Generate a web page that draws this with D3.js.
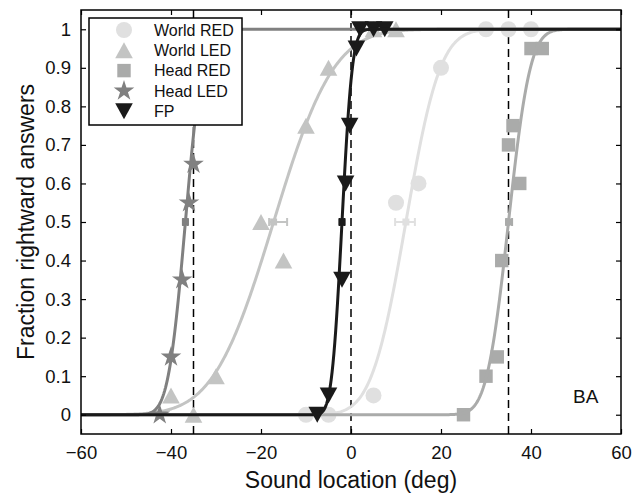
<!DOCTYPE html>
<html>
<head>
<meta charset="utf-8">
<script src="https://cdn.jsdelivr.net/npm/d3@7"></script>
<style>
  html, body { margin: 0; padding: 0; background: #fff; }
  svg { display: block; font-family: "Liberation Sans", Arial, Helvetica, sans-serif; }
</style>
</head>
<body>
<svg id="chart" width="642" height="495"></svg>
<script>
// ---------------- data ----------------
const seriesNames = ["World RED", "World LED", "Head RED", "Head LED", "FP"];
const seriesColors = ["#e0e0e0", "#c3c4c3", "#aaabaa", "#808080", "#1a1a1a"];
const seriesShapes = ["circle", "triangle", "square", "star", "triangleDown"];

const worldRedX = [-10, -5, 5, 10, 15, 20, 30, 35, 40];
const worldRedY = [0, 0, 0.05, 0.55, 0.6, 0.9, 1, 1, 1];

const worldLedX = [-40, -35, -30, -20, -15, -10, -5, 5, 10];
const worldLedY = [0.05, 0, 0.1, 0.5, 0.4, 0.75, 0.9, 1, 1];

const headRedX = [25, 30, 32.5, 33.5, 35, 36, 37.5, 40, 42.5];
const headRedY = [0, 0.1, 0.15, 0.4, 0.7, 0.75, 0.6, 0.95, 0.95];

const headLedX = [-42.5, -40, -37.5, -36, -35];
const headLedY = [0, 0.15, 0.35, 0.55, 0.65];

const fpX = [-7.5, -5, -2, -1.2, -0.3, 1.2, 2, 5, 7.5];
const fpY = [0, 0.05, 0.35, 0.6, 0.75, 0.95, 1, 1, 1];

// psychometric fit (cumulative Gaussian): PSE and width per series
const fitPSE = [12.2, -17.2, 35, -36.8, -2];
const fitSigma = [6, 10.5, 3.8, 3, 1.8];
// PSE confidence intervals
const pseLow = [9.8, -18.2, 34.5, -37.3, -2.5];
const pseHigh = [14.2, -14.2, 35.8, -36.3, -1.5];

const refLines = [-35, 0, 35];
const xTicks = [-60, -40, -20, 0, 20, 40, 60];
const xTickLabels = ["\u221260", "\u221240", "\u221220", "0", "20", "40", "60"];
const yTicks = [0, 0.1, 0.2, 0.3, 0.4, 0.5, 0.6, 0.7, 0.8, 0.9, 1];
const yTickLabels = ["0", "0.1", "0.2", "0.3", "0.4", "0.5", "0.6", "0.7", "0.8", "0.9", "1"];

const xTitle = "Sound location (deg)";
const yTitle = "Fraction rightward answers";
const panelLabel = "BA";

// ---------------- layout ----------------
const svg = d3.select("#chart");
const L = 81, R = 621, T = 10, B = 434;
const x = d3.scaleLinear().domain([-60, 60]).range([L, R]);
const y = d3.scaleLinear().domain([-0.05, 1.05]).range([B, T]);

const pts = [
  worldRedX.map((v, i) => [v, worldRedY[i]]),
  worldLedX.map((v, i) => [v, worldLedY[i]]),
  headRedX.map((v, i) => [v, headRedY[i]]),
  headLedX.map((v, i) => [v, headLedY[i]]),
  fpX.map((v, i) => [v, fpY[i]])
];

function erf(z) {
  const t = 1 / (1 + 0.3275911 * Math.abs(z));
  const p = t * (0.254829592 + t * (-0.284496736 + t * (1.421413741 + t * (-1.453152027 + t * 1.061405429))));
  const r = 1 - p * Math.exp(-z * z);
  return z >= 0 ? r : -r;
}
const cdf = (v, m, s) => 0.5 * (1 + erf((v - m) / (s * Math.SQRT2)));

function shapePath(shape, s) {
  if (shape === "circle") {
    const r = s * 0.5;
    return `M${r},0A${r},${r} 0 1,1 ${-r},0A${r},${r} 0 1,1 ${r},0Z`;
  }
  if (shape === "square") {
    const h = s * 0.42;
    return `M${-h},${-h}H${h}V${h}H${-h}Z`;
  }
  if (shape === "triangle") {
    const w = s * 0.55, h = s * 0.5;
    return `M0,${-h}L${w},${h}L${-w},${h}Z`;
  }
  if (shape === "triangleDown") {
    const w = s * 0.55, h = s * 0.5;
    return `M0,${h}L${w},${-h}L${-w},${-h}Z`;
  }
  if (shape === "star") {
    const ro = s * 0.62, ri = ro * 0.382;
    let d = "";
    for (let k = 0; k < 10; k++) {
      const r = k % 2 === 0 ? ro : ri;
      const a = -Math.PI / 2 + k * Math.PI / 5;
      d += (k === 0 ? "M" : "L") + (r * Math.cos(a)).toFixed(2) + "," + (r * Math.sin(a)).toFixed(2);
    }
    return d + "Z";
  }
}
const markerSize = 16;

// clip
svg.append("defs").append("clipPath").attr("id", "plotclip")
  .append("rect").attr("x", L).attr("y", T).attr("width", R - L).attr("height", B - T);

const plot = svg.append("g").attr("clip-path", "url(#plotclip)");

// reference dashed lines
plot.selectAll("line.ref").data(refLines).join("line")
  .attr("class", "ref")
  .attr("x1", d => x(d)).attr("x2", d => x(d))
  .attr("y1", T).attr("y2", B)
  .attr("stroke", "#000").attr("stroke-width", 1.5)
  .attr("stroke-dasharray", "8,5");

const xs = d3.range(-60, 60.001, 0.2);
const line = d3.line().x(d => x(d[0])).y(d => y(d[1]));

seriesNames.forEach((name, i) => {
  const g = plot.append("g");
  const col = seriesColors[i];
  // data markers
  g.selectAll("path.m").data(pts[i]).join("path")
    .attr("class", "m")
    .attr("transform", d => `translate(${x(d[0])},${y(d[1])})`)
    .attr("d", shapePath(seriesShapes[i], seriesShapes[i] === "star" ? 17.5 : markerSize))
    .attr("fill", col);
  // fitted curve
  const curve = xs.map(v => [v, cdf(v, fitPSE[i], fitSigma[i])]);
  g.append("path").datum(curve)
    .attr("d", line)
    .attr("fill", "none")
    .attr("stroke", col)
    .attr("stroke-width", 3);
  // PSE with error bar
  const yy = y(0.5);
  g.append("line")
    .attr("x1", x(pseLow[i])).attr("x2", x(pseHigh[i]))
    .attr("y1", yy).attr("y2", yy)
    .attr("stroke", col).attr("stroke-width", 2);
  [pseLow[i], pseHigh[i]].forEach(v => {
    g.append("line")
      .attr("x1", x(v)).attr("x2", x(v))
      .attr("y1", yy - 4).attr("y2", yy + 4)
      .attr("stroke", col).attr("stroke-width", 2);
  });
  g.append("rect")
    .attr("x", x(fitPSE[i]) - 3.5).attr("y", yy - 3.5)
    .attr("width", 7).attr("height", 7)
    .attr("fill", col);
});

// ---------------- axes box ----------------
const axG = svg.append("g");
axG.append("rect").attr("x", L).attr("y", T).attr("width", R - L).attr("height", B - T)
  .attr("fill", "none").attr("stroke", "#000").attr("stroke-width", 1.5);

const tickLen = 5;
const xAxisB = d3.axisBottom(x).tickValues(xTicks).tickSize(-tickLen).tickPadding(tickLen + 7)
  .tickFormat((d, i) => xTickLabels[i]);
const gxb = axG.append("g").attr("transform", `translate(0,${B})`).call(xAxisB);
const xAxisT = d3.axisTop(x).tickValues(xTicks).tickSize(-tickLen).tickFormat("");
const gxt = axG.append("g").attr("transform", `translate(0,${T})`).call(xAxisT);
const yAxisL = d3.axisLeft(y).tickValues(yTicks).tickSize(-tickLen).tickPadding(tickLen + 5)
  .tickFormat((d, i) => yTickLabels[i]);
const gyl = axG.append("g").attr("transform", `translate(${L},0)`).call(yAxisL);
const yAxisR = d3.axisRight(y).tickValues(yTicks).tickSize(-tickLen).tickFormat("");
const gyr = axG.append("g").attr("transform", `translate(${R},0)`).call(yAxisR);

[gxb, gxt, gyl, gyr].forEach(g => {
  g.select(".domain").remove();
  g.selectAll(".tick line").attr("stroke", "#000").attr("stroke-width", 1.2);
  g.selectAll(".tick text").attr("fill", "#111").style("font-size", "18.5px")
    .style("font-family", "'Liberation Sans', Arial, sans-serif");
});

// titles
svg.append("text").attr("x", (L + R) / 2).attr("y", 488)
  .attr("text-anchor", "middle").style("font-size", "23px").attr("fill", "#111").text(xTitle);
svg.append("text").attr("transform", `translate(34,${(T + B) / 2}) rotate(-90)`)
  .attr("text-anchor", "middle").style("font-size", "23px").attr("fill", "#111").text(yTitle);

svg.append("text").attr("x", 573).attr("y", 403)
  .style("font-size", "19px").attr("fill", "#111").text(panelLabel);

// ---------------- legend ----------------
const leg = svg.append("g");
leg.append("rect").attr("x", 89).attr("y", 18).attr("width", 153).attr("height", 107)
  .attr("fill", "#fff").attr("stroke", "#000").attr("stroke-width", 1.5);
seriesNames.forEach((name, i) => {
  const cy = 30 + i * 20.3;
  leg.append("path")
    .attr("transform", `translate(124,${cy})`)
    .attr("d", shapePath(seriesShapes[i], seriesShapes[i] === "star" ? 17.5 : markerSize))
    .attr("fill", seriesColors[i]);
  leg.append("text").attr("x", 154).attr("y", cy).attr("dy", "0.36em")
    .style("font-size", "16px").attr("fill", "#111").text(name);
});
</script>
</body>
</html>
